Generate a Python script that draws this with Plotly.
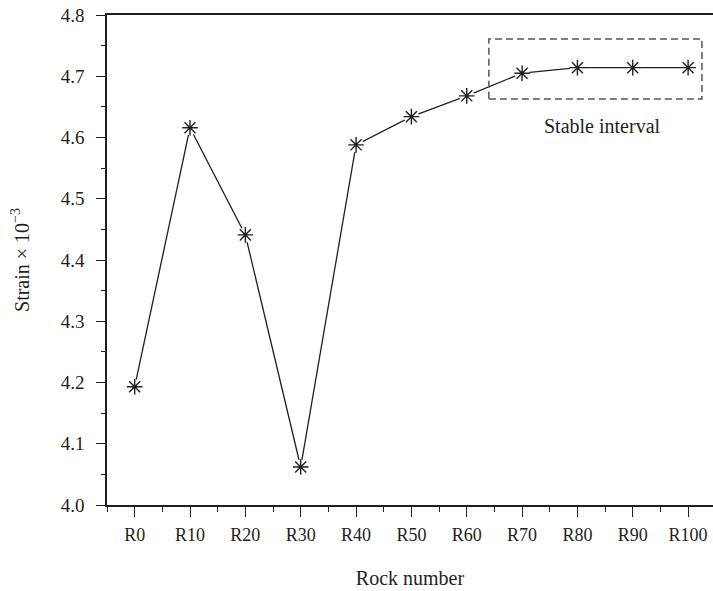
import plotly.graph_objects as go

# Strain (×10^-3) measured for each rock sample
rocks = ["R0", "R10", "R20", "R30", "R40", "R50", "R60", "R70", "R80", "R90", "R100"]
strain = [4.193, 4.616, 4.441, 4.062, 4.588, 4.634, 4.668, 4.705, 4.714, 4.714, 4.714]

# Region highlighted as the stable interval (category index / strain bounds)
stable_x = [6.4, 10.25]
stable_y = [4.663, 4.761]

y_ticks = [4.0, 4.1, 4.2, 4.3, 4.4, 4.5, 4.6, 4.7, 4.8]

xpos = list(range(len(rocks)))
ink = "#231f20"
font_family = "Liberation Serif, Times New Roman, serif"

fig = go.Figure()

# connecting line
fig.add_trace(go.Scatter(
    x=xpos, y=strain, mode="lines",
    line=dict(color=ink, width=1.3),
    hoverinfo="skip", showlegend=False,
))
# white halo so the line stops short of each marker
fig.add_trace(go.Scatter(
    x=xpos, y=strain, mode="markers",
    marker=dict(symbol="circle", size=15, color="white", line=dict(width=0)),
    hoverinfo="skip", showlegend=False,
))
# asterisk markers
fig.add_trace(go.Scatter(
    x=xpos, y=strain, mode="markers",
    marker=dict(symbol="asterisk-open", size=13, color=ink,
                line=dict(color=ink, width=1.4)),
    showlegend=False,
))

# dashed box around the stable interval
fig.add_shape(
    type="rect", xref="x", yref="y",
    x0=stable_x[0], x1=stable_x[1], y0=stable_y[0], y1=stable_y[1],
    line=dict(color="#555555", width=1.5, dash="7px,4px"),
)
fig.add_annotation(
    x=(stable_x[0] + stable_x[1]) / 2, y=stable_y[0],
    xref="x", yref="y", yanchor="top", yshift=-14, xshift=7,
    text="Stable interval", showarrow=False,
    font=dict(family=font_family, size=20, color=ink),
)

fig.update_layout(
    width=713, height=591,
    margin=dict(l=107, r=0, t=15, b=86),
    paper_bgcolor="white", plot_bgcolor="white",
    font=dict(family=font_family, size=18, color=ink),
    xaxis=dict(
        range=[-0.5, 10.45],
        tickmode="array", tickvals=xpos, ticktext=rocks,
        ticks="outside", ticklen=10, tickwidth=1.3, tickcolor=ink,
        ticklabelstandoff=3,
        minor=dict(tickmode="array",
                   tickvals=[p - 0.5 for p in xpos],
                   ticks="outside", ticklen=5, tickwidth=1.3, tickcolor=ink),
        showline=True, linecolor=ink, linewidth=1.5, mirror=True,
        showgrid=False, zeroline=False,
        title=dict(text="Rock number", standoff=27,
                   font=dict(family=font_family, size=20, color=ink)),
        tickfont=dict(family=font_family, size=18, color=ink),
    ),
    yaxis=dict(
        range=[4.0, 4.8],
        tickmode="array", tickvals=y_ticks,
        ticktext=[f"{v:.1f}" for v in y_ticks],
        ticks="outside", ticklen=9, tickwidth=1.3, tickcolor=ink,
        ticklabelstandoff=8,
        minor=dict(dtick=0.05, tick0=4.0, ticks="outside", ticklen=4,
                   tickwidth=1.3, tickcolor=ink),
        showline=True, linecolor=ink, linewidth=1.5,
        showgrid=False, zeroline=False,
        title=dict(text="Strain × 10<sup>−3</sup>", standoff=26,
                   font=dict(family=font_family, size=20, color=ink)),
        tickfont=dict(family=font_family, size=19, color=ink),
    ),
)

fig.write_html("out.html")
